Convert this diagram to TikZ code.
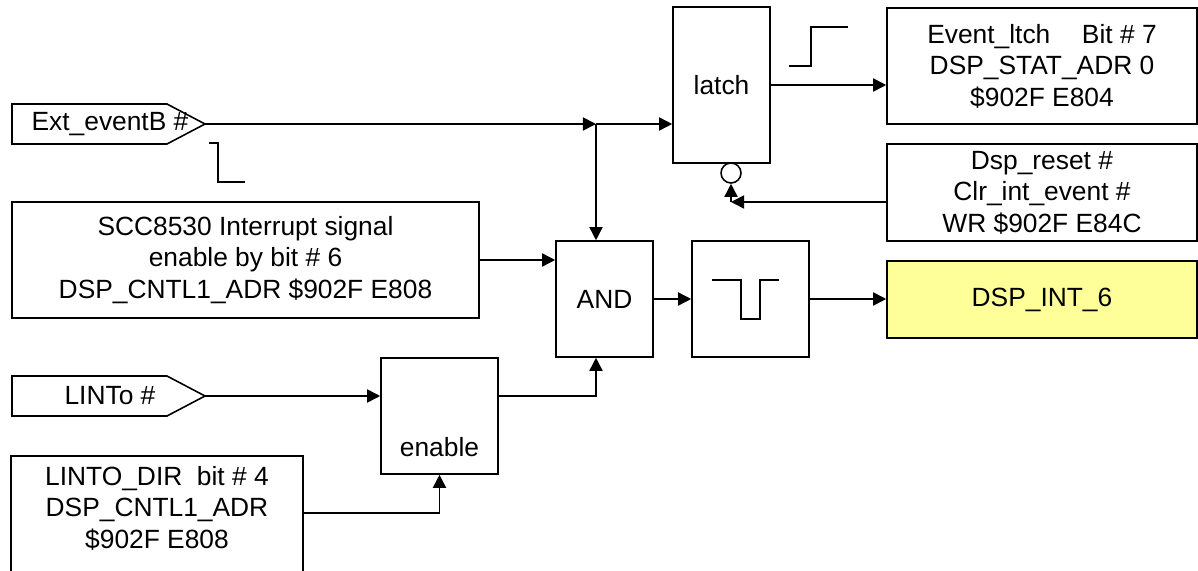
\documentclass[tikz,border=0pt]{standalone}
\usepackage{fontspec}
\setmainfont{Liberation Sans}
\usetikzlibrary{arrows.meta}
\definecolor{intyellow}{HTML}{FFFF99}
\tikzset{
  blk/.style={draw, line width=0.9pt, align=center, inner sep=0pt},
  wave/.style={line width=0.9pt},
}
\begin{document}
\begin{tikzpicture}[x=0.02cm, y=-0.02cm, line width=0.9pt,
    >={Triangle[length=7.5pt,width=7.5pt]},
    font=\fontsize{15}{18}\selectfont]
      \useasboundingbox (0,0) rectangle (1198,571);

      \foreach \y/\n/\t in {124/extB/{Ext\_eventB \#}, 396/lint/{LINTo \#}}
      {
          \draw (12,\y-20) -- (167,\y-20) -- (205,\y) -- (167,\y+20) -- (12,\y+20) -- cycle;
          \coordinate (\n) at (205,\y);
          \node (\n-txt) at (110,\y) {\t};
      }

      \node (latch) at (721.5,85) [blk, minimum width=1.94cm, minimum height=3.12cm] {latch};
      \node (evt) at (1042,66) [blk, minimum width=6.2cm, minimum height=2.32cm]
          {Event\_ltch\hspace{1.2em}Bit \# 7\\DSP\_STAT\_ADR 0\\\$902F E804};
      \node (rst) at (1042,192.5) [blk, minimum width=6.2cm, minimum height=1.94cm]
          {Dsp\_reset \#\\Clr\_int\_event \#\\WR \$902F E84C};
      \node (int6) at (1042,299.5) [blk, fill=intyellow, minimum width=6.2cm, minimum height=1.54cm] {DSP\_INT\_6};
      \node (scc) at (245.5,260) [blk, minimum width=9.34cm, minimum height=2.32cm]
          {SCC8530 Interrupt signal\\enable by bit \# 6\\DSP\_CNTL1\_ADR \$902F E808};
      \node (and) at (604.5,299) [blk, minimum width=1.94cm, minimum height=2.32cm] {AND};
      \node (pulse) at (750.5,299) [blk, minimum width=2.34cm, minimum height=2.32cm] {};
      \node (en) at (439.5,416) [blk, minimum width=2.34cm, minimum height=2.32cm] {};
      \node (en-txt) at (439.5,447) {enable};
      \node (dir) at (157,455) [blk, anchor=north, minimum width=5.84cm, minimum height=2.6cm] {};
      \node (dir-txt) at (157,508) [align=center] {LINTO\_DIR\ \ bit \# 4\\DSP\_CNTL1\_ADR\\\$902F E808};
      \node (clr) at (731,173) [draw, circle, line width=0.9pt, minimum size=0.4cm, inner sep=0pt] {};

      \coordinate (jn) at (596,124);
      \coordinate (rc) at (731,202);
      \coordinate (dirout) at (303,513);

      \draw[->] (extB) -- (jn);
      \draw[->] (jn) -- (jn -| latch.west);
      \draw[->] (jn) -- (jn |- and.north);
      \draw[->] (latch.east) -- (latch.east -| evt.west);
      \draw[->] (rc -| rst.west) -- (rc);
      \draw[->] (rc) -- (clr.south);
      \draw[->] (scc.east) -- (scc.east -| and.west);
      \foreach \a/\b in {and/pulse, pulse/int6}
          \draw[->] (\a.east) -- (\a.east -| \b.west);
      \draw[->] (lint) -- (lint -| en.west);
      \draw[->] (lint -| en.east) -| (jn |- and.south);
      \draw[->] (dirout) -| (en.south);

      \draw[wave] (209,143) -- (218,143) -- (218,182) -- (245,182);
      \draw[wave] (789,66) -- (811,66) -- (811,27) -- (848,27);
      \draw[wave] (712,280) -- (741,280) -- (741,319) -- (760,319) -- (760,280) -- (779,280);
\end{tikzpicture}
\end{document}
